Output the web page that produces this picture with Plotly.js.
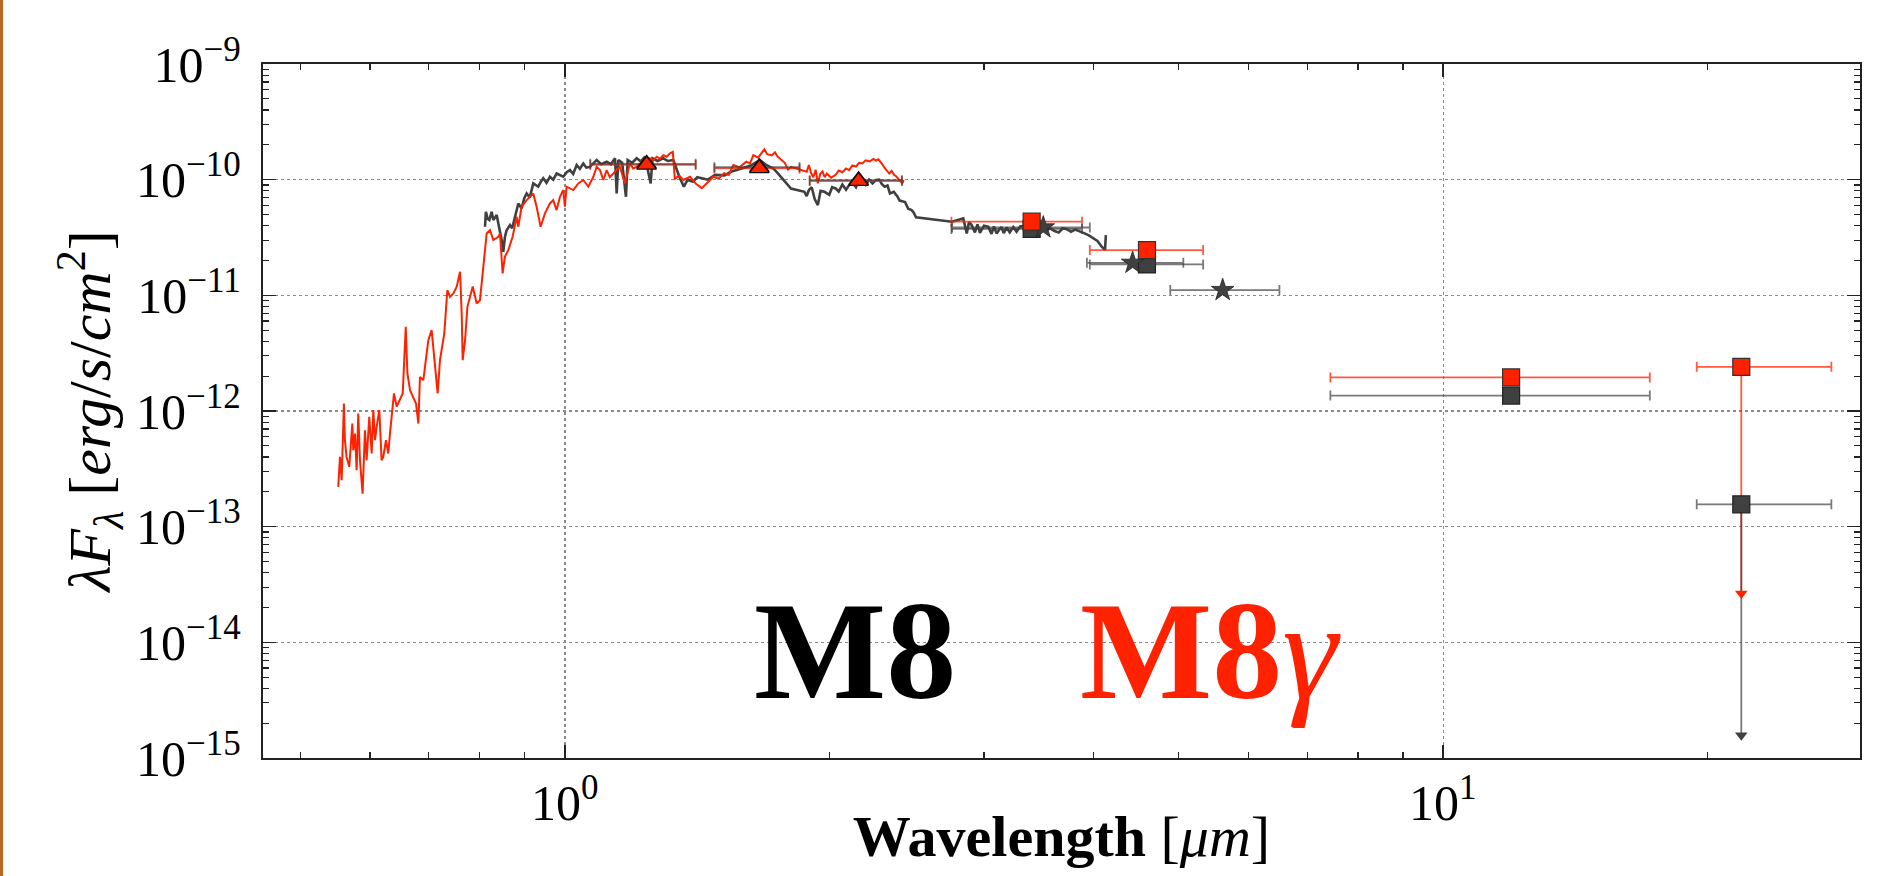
<!DOCTYPE html>
<html><head><meta charset="utf-8">
<script src="https://cdn.plot.ly/plotly-3.0.1.min.js"></script>
<style>html,body{margin:0;padding:0;background:#fff;overflow:hidden}
#plot{position:absolute;left:0;top:0;width:1880px;height:876px}
#edge{position:absolute;left:0;top:0;width:3px;height:876px;background:#b8681f}</style>
</head><body><div id="plot"></div><div id="edge"></div>
<script>
// ---- M8gamma (red) spectrum: [wavelength um, lambda*F_lambda erg/s/cm^2]
const redSpectrum = [
[0.552,2.21e-13],[0.5546,4.01e-13],[0.557,2.52e-13],[0.5603,1.16e-12],[0.5618,5.59e-13],[0.5642,4.01e-13],[0.5682,3.29e-13],[0.5728,7.79e-13],[0.5742,4.58e-13],[0.5768,6.38e-13],
[0.5793,3.08e-13],[0.5818,9.51e-13],[0.5844,3.75e-13],[0.5884,1.93e-13],[0.5921,6.82e-13],[0.5947,3.75e-13],[0.5988,8.89e-13],[0.6026,4.29e-13],[0.6052,1.02e-12],[0.6079,5.59e-13],
[0.6105,7.29e-13],[0.6148,1.02e-12],[0.6185,3.75e-13],[0.6212,4.01e-13],[0.6256,5.59e-13],[0.6294,4.29e-13],[0.6322,6.38e-13],[0.635,9.51e-13],[0.6389,1.42e-12],[0.6434,1.09e-12],
[0.649,1.24e-12],[0.6537,1.42e-12],[0.6589,5.35e-12],[0.6618,2.11e-12],[0.6664,1.51e-12],[0.6722,1.32e-12],[0.6769,1.16e-12],[0.6811,7.79e-13],[0.6839,1.97e-12],[0.69,1.85e-12],
[0.6948,2.94e-12],[0.6991,4.09e-12],[0.7052,5.0e-12],[0.7096,2.94e-12],[0.7133,2.11e-12],[0.7164,1.42e-12],[0.7208,2.75e-12],[0.729,4.68e-12],[0.7348,1.11e-11],[0.74,9.7e-12],
[0.7465,1.04e-11],[0.7531,1.19e-11],[0.7597,1.6e-11],[0.763,6.97e-12],[0.765,2.75e-12],[0.7698,4.09e-12],[0.7745,7.96e-12],[0.7854,1.19e-11],[0.7936,8.51e-12],[0.8005,9.08e-12],
[0.8146,3.43e-11],[0.8218,3.66e-11],[0.829,3.01e-11],[0.8399,3.21e-11],[0.8436,3.43e-11],[0.8494,1.55e-11],[0.8546,2.16e-11],[0.8622,2.46e-11],[0.872,3.21e-11],[0.8812,4.78e-11],
[0.8851,3.92e-11],[0.8928,5.83e-11],[0.9046,6.66e-11],[0.9205,7.61e-11],[0.9286,5.83e-11],[0.9384,3.92e-11],[0.9491,5.11e-11],[0.9616,6.23e-11],[0.97,6.66e-11],[0.9786,5.46e-11],
[0.9872,7.12e-11],[0.9959,8.13e-11],[1.0,5.83e-11],[1.0046,8.69e-11],[1.0224,8.13e-11],[1.0358,9.28e-11],[1.0495,9.93e-11],[1.0634,8.69e-11],[1.0775,1.06e-10],[1.0869,1.29e-10],
[1.0965,1.21e-10],[1.106,9.93e-11],[1.1158,1.21e-10],[1.125,1.05e-10],[1.1355,1.13e-10],[1.145,1.22e-10],[1.1554,1.29e-10],[1.1705,9.28e-11],[1.186,1.38e-10],[1.196,1.25e-10],
[1.207,1.29e-10],[1.218,1.40e-10],[1.2283,1.48e-10],[1.24,1.40e-10],[1.25,1.53e-10],[1.261,1.47e-10],[1.272,1.58e-10],[1.283,1.52e-10],[1.2945,1.63e-10],[1.306,1.58e-10],
[1.3174,1.69e-10],[1.327,1.74e-10],[1.334,1.02e-10],[1.35,1.08e-10],[1.3646,9.93e-11],[1.3887,1.06e-10],[1.41,9.2e-11],[1.432,8.45e-11],[1.4501,9.28e-11],[1.4757,1.06e-10],
[1.497,1.02e-10],[1.518,1.14e-10],[1.537,1.10e-10],[1.5553,1.34e-10],[1.58,1.28e-10],[1.609,1.43e-10],[1.625,1.38e-10],[1.639,1.63e-10],[1.66,1.55e-10],[1.687,1.83e-10],
[1.7,1.66e-10],[1.72,1.62e-10],[1.735,1.72e-10],[1.747,1.58e-10],[1.765,1.48e-10],[1.78,1.40e-10],[1.795,1.22e-10],[1.809,1.29e-10],[1.885,1.17e-10],[1.896,1.34e-10],
[1.907,1.14e-10],[1.918,1.05e-10],[1.93,1.22e-10],[1.941,9.29e-11],[1.953,1.12e-10],[1.965,1.18e-10],[1.976,1.05e-10],[1.987,1.13e-10],[2.01,1.04e-10],[2.034,1.10e-10],
[2.05,1.20e-10],[2.07,1.16e-10],[2.09,1.25e-10],[2.107,1.21e-10],[2.125,1.33e-10],[2.145,1.30e-10],[2.163,1.40e-10],[2.182,1.38e-10],[2.2,1.47e-10],[2.225,1.44e-10],
[2.245,1.51e-10],[2.261,1.46e-10],[2.275,1.50e-10],[2.287,1.43e-10],[2.3,1.35e-10],[2.315,1.25e-10],[2.328,1.20e-10],[2.341,1.13e-10],[2.355,1.19e-10],[2.37,1.10e-10],
[2.383,1.07e-10],[2.396,1.03e-10],[2.41,9.7e-11],[2.424,9.29e-11],[2.43,1.0e-10]
];

// ---- M8 (dark grey) spectrum
const blackSpectrum = [
[0.8111,3.92e-11],[0.813,5.28e-11],[0.8165,4.6e-11],[0.8204,4.47e-11],[0.8253,5.28e-11],[0.829,4.47e-11],[0.8363,4.94e-11],[0.8399,4.18e-11],[0.8436,3.66e-11],[0.8472,3.01e-11],
[0.8509,2.38e-11],[0.8546,3.21e-11],[0.8584,3.66e-11],[0.866,4.05e-11],[0.871,3.8e-11],[0.8774,4.78e-11],[0.8851,6.23e-11],[0.8928,5.64e-11],[0.899,6.9e-11],[0.9046,7.61e-11],
[0.912,7.0e-11],[0.9205,9.28e-11],[0.9326,8.69e-11],[0.939,9.6e-11],[0.945,1.03e-10],[0.953,9.4e-11],[0.9616,1.06e-10],[0.97,1.0e-10],[0.9786,1.13e-10],[0.9959,1.06e-10],
[1.005,1.16e-10],[1.0135,1.21e-10],[1.022,1.12e-10],[1.0314,1.34e-10],[1.04,1.24e-10],[1.0495,1.38e-10],[1.058,1.27e-10],[1.068,1.29e-10],[1.078,1.40e-10],[1.0869,1.48e-10],
[1.1,1.36e-10],[1.1158,1.43e-10],[1.128,1.36e-10],[1.1405,1.53e-10],[1.1455,7.61e-11],[1.1505,1.48e-10],[1.162,1.40e-10],[1.1737,7.12e-11],[1.1789,1.48e-10],[1.193,1.40e-10],
[1.207,1.53e-10],[1.22,1.44e-10],[1.2338,1.58e-10],[1.2522,9.28e-11],[1.2585,1.53e-10],[1.275,1.45e-10],[1.2945,1.53e-10],[1.31,1.45e-10],[1.329,1.48e-10],[1.35,1.06e-10],
[1.366,8.69e-11],[1.38,1.0e-10],[1.399,9.6e-11],[1.415,1.05e-10],[1.432,1.03e-10],[1.455,1.0e-10],[1.483,1.10e-10],[1.52,1.09e-10],[1.545,1.17e-10],[1.572,1.21e-10],
[1.6,1.27e-10],[1.63,1.33e-10],[1.667,1.48e-10],[1.695,1.34e-10],[1.727,1.25e-10],[1.745,1.15e-10],[1.767,1.03e-10],[1.785,9.6e-11],[1.809,8.39e-11],[1.874,7.85e-11],
[1.885,7.2e-11],[1.896,8.13e-11],[1.91,8.6e-11],[1.925,6.8e-11],[1.941,6.03e-11],[1.955,8.0e-11],[1.975,7.85e-11],[2.0,7.4e-11],[2.015,8.6e-11],[2.034,8.39e-11],
[2.05,7.9e-11],[2.07,9.1e-11],[2.09,8.2e-11],[2.107,8.97e-11],[2.125,9.4e-11],[2.145,8.6e-11],[2.16,9.8e-11],[2.182,9.6e-11],[2.2,9.0e-11],[2.22,1.0e-10],
[2.24,9.3e-11],[2.261,9.93e-11],[2.28,1.0e-10],[2.295,9.2e-11],[2.313,8.69e-11],[2.33,8.9e-11],[2.345,7.6e-11],[2.369,7.85e-11],[2.39,7.2e-11],[2.405,6.6e-11],
[2.424,6.44e-11],[2.44,6.4e-11],[2.46,5.6e-11],[2.482,5.46e-11],[2.495,5.2e-11],[2.511,4.72e-11],[2.758,4.33e-11],[2.8,4.5e-11],[2.842,4.62e-11],[2.868,3.43e-11],
[2.885,4.3e-11],[2.905,4.05e-11],[2.93,3.5e-11],[2.95,4.1e-11],[2.969,3.47e-11],[3.0,4.0e-11],[3.034,3.92e-11],[3.06,3.4e-11],[3.08,3.95e-11],[3.101,3.43e-11],
[3.14,3.9e-11],[3.16,3.45e-11],[3.184,3.86e-11],[3.21,3.5e-11],[3.24,3.9e-11],[3.268,3.55e-11],[3.3,3.95e-11],[3.34,3.97e-11],[3.37,3.6e-11],[3.4,3.9e-11],
[3.45,3.6e-11],[3.5,3.9e-11],[3.53,3.62e-11],[3.567,3.79e-11],[3.61,3.6e-11],[3.65,3.5e-11],[3.69,3.8e-11],[3.727,3.73e-11],[3.77,3.55e-11],[3.81,3.7e-11],
[3.859,3.59e-11],[3.9,3.45e-11],[3.95,3.3e-11],[3.997,3.10e-11],[4.04,2.95e-11],[4.086,2.63e-11],[4.121,2.46e-11],[4.13,3.32e-11]
];

// ---- 2MASS J, H, K (triangles)
const jhkWave = [1.239, 1.665, 2.16];
const jhkHalfWidth = [0.17, 0.185, 0.26];
const jhkRed = [1.34e-10, 1.25e-10, 9.73e-11];
const jhkGrey = [1.37e-10, 1.28e-10, 9.9e-11];

// ---- WISE W1..W4 (squares)
const wiseWave = [3.40, 4.60, 11.95, 21.85];
const wiseErrMinus = [0.645, 0.64, 4.51, 2.41];
const wiseErrPlus = [0.48, 0.73, 5.24, 5.82];
const wiseRed = [4.33e-11, 2.46e-11, 1.95e-12, 2.41e-12];
const wiseGrey = [3.75e-11, 1.85e-11, 1.36e-12, 1.56e-13];
const redLimitEnd = [null, null, null, 2.64e-14];
const greyLimitEnd = [null, null, null, 1.57e-15];

// ---- Spitzer IRAC (stars, grey)
const iracWave = [3.505, 4.43, 5.61];
const iracErrMinus = [0.745, 0.50, 0.72];
const iracErrPlus = [0.455, 0.63, 0.90];
const iracGrey = [3.86e-11, 1.91e-11, 1.11e-11];

// ---- tick labels
const xTickVals = [1, 10];
const xTickText = ['10<sup>0</sup>', '10<sup>1</sup>'];
const yTickVals = [1e-15, 1e-14, 1e-13, 1e-12, 1e-11, 1e-10, 1e-9];
const yTickText = ['10<sup>−15</sup>','10<sup>−14</sup>','10<sup>−13</sup>','10<sup>−12</sup>','10<sup>−11</sup>','10<sup>−10</sup>','10<sup>−9</sup>'];

const RED = '#ff2200';
const GREY = '#404040';
const redBar = 'rgba(255,34,0,0.75)';
const greyBar = 'rgba(64,64,64,0.7)';

const limitMinus = (vals, ends) => vals.map((v, i) => ends[i] === null ? 0 : v - ends[i]);
const limitIdx = (ends) => ends.map((e, i) => e === null ? null : i).filter(i => i !== null);

const traces = [
  {x: blackSpectrum.map(p => p[0]), y: blackSpectrum.map(p => p[1]), mode: 'lines', line: {color: GREY, width: 2.6}},
  {x: redSpectrum.map(p => p[0]), y: redSpectrum.map(p => p[1]), mode: 'lines', line: {color: RED, width: 2}},
  {x: wiseWave, y: wiseRed, mode: 'markers', marker: {size: 1, color: 'rgba(0,0,0,0)'},
   error_x: {type: 'data', symmetric: false, array: wiseErrPlus, arrayminus: wiseErrMinus, color: redBar, thickness: 1.8, width: 5},
   error_y: {type: 'data', symmetric: false, array: wiseRed.map(() => 0), arrayminus: limitMinus(wiseRed, redLimitEnd), color: redBar, thickness: 1.8, width: 0}},
  {x: jhkWave, y: jhkRed, mode: 'markers', marker: {size: 1, color: 'rgba(0,0,0,0)'},
   error_x: {type: 'data', array: jhkHalfWidth, color: redBar, thickness: 1.8, width: 5}},
  {x: jhkWave, y: jhkGrey, mode: 'markers', marker: {symbol: 'triangle-up', size: 17, color: GREY, line: {color: '#111', width: 1.2}},
   error_x: {type: 'data', array: jhkHalfWidth, color: greyBar, thickness: 1.8, width: 5}},
  {x: wiseWave, y: wiseGrey, mode: 'markers', marker: {symbol: 'square', size: 17, color: GREY, line: {color: '#222', width: 1.2}},
   error_x: {type: 'data', symmetric: false, array: wiseErrPlus, arrayminus: wiseErrMinus, color: greyBar, thickness: 1.8, width: 5},
   error_y: {type: 'data', symmetric: false, array: wiseGrey.map(() => 0), arrayminus: limitMinus(wiseGrey, greyLimitEnd), color: greyBar, thickness: 1.8, width: 0}},
  {x: iracWave, y: iracGrey, mode: 'markers', marker: {symbol: 'star', size: 17, color: GREY, line: {color: '#222', width: 0.8}},
   error_x: {type: 'data', symmetric: false, array: iracErrPlus, arrayminus: iracErrMinus, color: greyBar, thickness: 1.8, width: 5}},
  {x: jhkWave, y: jhkRed, mode: 'markers', marker: {symbol: 'triangle-up', size: 17, color: RED, line: {color: '#111', width: 1.2}}},
  {x: wiseWave, y: wiseRed, mode: 'markers', marker: {symbol: 'square', size: 17, color: RED, line: {color: '#333', width: 1.2}}},
  {x: limitIdx(greyLimitEnd).map(i => wiseWave[i]), y: limitIdx(greyLimitEnd).map(i => greyLimitEnd[i]), mode: 'markers',
   marker: {symbol: 'triangle-down', size: 11, color: GREY}},
  {x: limitIdx(redLimitEnd).map(i => wiseWave[i]), y: limitIdx(redLimitEnd).map(i => redLimitEnd[i]), mode: 'markers',
   marker: {symbol: 'triangle-down', size: 11, color: RED}}
];

const serif = 'Liberation Serif, Times New Roman, serif';
const axisCommon = {
  type: 'log', showline: true, linewidth: 2.2, linecolor: '#222', mirror: 'allticks',
  ticks: 'inside', ticklen: 13, tickwidth: 1.4, tickcolor: '#222',
  showgrid: true, gridcolor: '#8a8a8a', griddash: 'dot', gridwidth: 1.3,
  zeroline: false, tickmode: 'array',
  minor: {tickmode: 'linear', dtick: 'D1', ticks: 'inside', ticklen: 6, tickwidth: 1.2, tickcolor: '#222', showgrid: false},
  tickfont: {family: serif, size: 50, color: '#000'}
};

const xLabelAnn = xTickVals.map((v, i) => ({
  xref: 'x', yref: 'paper', x: Math.log10(v), y: -0.012, xanchor: 'center', yanchor: 'top', showarrow: false,
  text: xTickText[i], font: {family: serif, size: 50, color: '#000'}
}));

const layout = {
  width: 1880, height: 876,
  margin: {l: 263, r: 20, t: 64, b: 118},
  paper_bgcolor: '#fff', plot_bgcolor: '#fff',
  showlegend: false,
  xaxis: Object.assign({}, axisCommon, {
    range: [-0.3437, 1.4746], tickvals: xTickVals, ticktext: xTickText, showticklabels: false,
    title: {text: '<b>Wavelength</b> [<i>μm</i>]', font: {family: serif, size: 58, color: '#000'}, standoff: 56}
  }),
  yaxis: Object.assign({}, axisCommon, {
    range: [-15, -9], tickvals: yTickVals, ticktext: yTickText, ticklabelstandoff: 10,
    title: {text: '<i>λF</i><sub><i>λ</i></sub> [<i>erg</i>/<i>s</i>/<i>cm</i><sup>2</sup>]', font: {family: serif, size: 60, color: '#000'}, standoff: 6}
  }),
  annotations: xLabelAnn.concat([
    {xref: 'paper', yref: 'paper', x: 0.3707, y: 0.04, xanchor: 'center', yanchor: 'bottom', showarrow: false,
     text: '<b>M8</b>', font: {family: serif, size: 140, color: '#000'}},
    {xref: 'paper', yref: 'paper', x: 0.593, y: 0.04, xanchor: 'center', yanchor: 'bottom', showarrow: false,
     text: '<b>M8</b><i>γ</i>', font: {family: serif, size: 140, color: RED}}
  ])
};

Plotly.newPlot('plot', traces, layout, {staticPlot: true, displayModeBar: false});
</script></body></html>
